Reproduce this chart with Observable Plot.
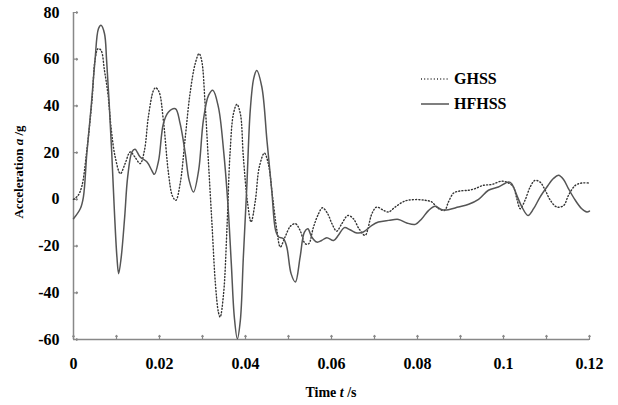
<!DOCTYPE html>
<html>
<head>
<meta charset="utf-8">
<script src="https://cdn.jsdelivr.net/npm/d3@7"></script>
<script src="https://cdn.jsdelivr.net/npm/@observablehq/plot@0.6"></script>
<style>
  html, body { margin: 0; padding: 0; background: #fff; }
  #chart { position: relative; width: 618px; height: 405px; }
</style>
</head>
<body>
<div id="chart"></div>
<script>
const seriesNames = ["GHSS", "HFHSS"];

const ghssT = [0,0.001,0.0019,0.0031,0.0043,0.005,0.0057,0.0064,0.0072,0.008,0.0088,0.0097,0.0109,0.012,0.0132,0.0143,0.0155,0.0165,0.0174,0.0186,0.0191,0.0199,0.0209,0.0221,0.023,0.0238,0.0248,0.026,0.0271,0.0283,0.0292,0.0298,0.0306,0.0314,0.0322,0.033,0.0337,0.0341,0.0349,0.0357,0.0364,0.0372,0.038,0.0388,0.0395,0.0405,0.0413,0.0423,0.0432,0.0444,0.0453,0.0463,0.0473,0.0481,0.0492,0.0504,0.0516,0.0527,0.0539,0.0547,0.0558,0.057,0.0579,0.0591,0.0601,0.0612,0.0624,0.0638,0.0651,0.0664,0.0678,0.0694,0.0705,0.0721,0.0733,0.0748,0.0771,0.0795,0.0818,0.0833,0.0849,0.0863,0.0872,0.0884,0.0899,0.0919,0.0934,0.0953,0.0973,0.0996,0.1012,0.1023,0.1031,0.1039,0.105,0.1062,0.1073,0.1085,0.1097,0.1109,0.1124,0.114,0.1151,0.1167,0.1182,0.1198];
const ghssA = [0,1.5,5.3,21,42.4,59.5,64.5,63.8,55.2,45.3,29.6,18.1,11,15.3,20.3,18.1,15.3,21,35.2,46.7,47.8,46,33.8,11,1.5,-0.4,6.7,26.7,45.3,58.1,62.4,59.5,41,15.3,-10.4,-36.1,-48.3,-50.4,-40.4,-11.9,19.6,36.7,40.7,36.7,18.1,-1.8,-9.7,-0.4,13.8,19.8,15.3,1,-13.3,-20.4,-16.1,-11.6,-10.4,-13.3,-19,-19,-11.9,-6.1,-3.6,-6.1,-10.4,-13.6,-10.4,-6.9,-8.3,-12.6,-15.4,-6.1,-3.3,-4.7,-5.4,-3.3,-0.7,-0.1,-0.4,-1.1,-4,-4.7,-1.1,2.7,3.6,3.9,4.6,6,6.4,7.8,7,5.3,0.3,-4,-0.4,5.3,8.1,7.4,3.9,-0.4,-3.3,-2.6,1.7,6,7,7];

const hfhssT = [0,0.0016,0.0023,0.0031,0.0041,0.005,0.0058,0.0064,0.0072,0.0077,0.0083,0.0089,0.0095,0.0101,0.0105,0.0111,0.0119,0.0126,0.0136,0.0143,0.0155,0.0171,0.0182,0.0188,0.0198,0.0209,0.0221,0.0237,0.0248,0.026,0.0269,0.0279,0.0291,0.0302,0.0314,0.0324,0.0337,0.0349,0.0359,0.0367,0.0374,0.0381,0.0388,0.0395,0.0403,0.0411,0.0419,0.0426,0.0438,0.045,0.0461,0.047,0.0477,0.0488,0.0496,0.0506,0.0516,0.0527,0.0537,0.0545,0.0554,0.0566,0.0577,0.0589,0.0605,0.0616,0.063,0.0643,0.0659,0.0674,0.0694,0.0709,0.0733,0.0756,0.0775,0.0795,0.081,0.0826,0.0841,0.0857,0.0872,0.0895,0.0919,0.0942,0.0965,0.0988,0.1012,0.1019,0.1031,0.1043,0.1057,0.107,0.1085,0.1101,0.1116,0.1128,0.114,0.1151,0.1167,0.1182,0.1194,0.12];
const hfhssA = [-8.3,-3.9,1,19.7,39.5,59.5,73,74.5,71,59.5,41,19.7,-4.7,-24.7,-31.8,-24.7,-7.6,9.6,20.3,21.5,18.1,16,12.4,10.7,16.7,32.4,37.4,38.8,32.4,19.6,8.1,3.1,12.4,33.8,44.5,46.7,39.5,21,-1.8,-27.5,-50.4,-59.7,-51.8,-24.7,5.3,38,51.7,55.2,48.1,25,3.9,-13.3,-16.1,-16.8,-20.4,-31.8,-35.4,-24.7,-14,-12.6,-16.1,-18.3,-17.6,-16.4,-17.6,-15.4,-12.1,-13,-14.4,-14,-11.1,-9.7,-9,-8.6,-10.1,-10.7,-8.3,-4.7,-3,-4.4,-4.4,-3.3,-2.1,0,3.9,5.3,7.4,6.7,1.7,-3.3,-6.9,-4,1,5.3,8.9,10.3,8.4,4.6,-0.4,-4,-5.4,-5];

const xTicks = [0,0.01,0.02,0.03,0.04,0.05,0.06,0.07,0.08,0.09,0.1,0.11,0.12];
const xLabelTicks = [0,0.02,0.04,0.06,0.08,0.1,0.12];
const yTicks = [-60,-40,-20,0,20,40,60,80];
const xTitle = "Time ";
const yTitle = "Acceleration ";

const ghss = ghssT.map((t, i) => ({t, a: ghssA[i]}));
const hfhss = hfhssT.map((t, i) => ({t, a: hfhssA[i]}));

const FONT = "'Liberation Serif', 'Times New Roman', serif";
const DOTS = "1 2.2";

const plot = Plot.plot({
  width: 618,
  height: 405,
  marginLeft: 73,
  marginRight: 29,
  marginTop: 12,
  marginBottom: 66,
  style: {fontFamily: FONT, fontSize: "16px", fontWeight: "bold", color: "#000", background: "#fff"},
  x: {domain: [0, 0.12]},
  y: {domain: [-60, 80]},
  marks: [
    Plot.axisX(xLabelTicks, {tickSize: 0, tickPadding: 18, tickFormat: d => String(+d.toFixed(2)), label: null, fill: "#000"}),
    Plot.axisY(yTicks, {tickSize: 0, tickPadding: 14, tickFormat: d => String(d), label: null, fill: "#000"}),
    // inward tick marks
    Plot.vector(xTicks, {x: d => d, frameAnchor: "bottom", length: 4, rotate: 0, anchor: "start", stroke: "#888", strokeWidth: 1.2}),
    Plot.vector(yTicks, {y: d => d, frameAnchor: "left", length: 4, rotate: 90, anchor: "start", stroke: "#888", strokeWidth: 1.2}),
    Plot.ruleY([-60], {stroke: "#888", strokeWidth: 1.5}),
    Plot.ruleX([0], {stroke: "#888", strokeWidth: 1.5}),
    Plot.line(ghss, {x: "t", y: "a", curve: "catmull-rom", stroke: "#333", strokeWidth: 1.4, strokeDasharray: DOTS}),
    Plot.line(hfhss, {x: "t", y: "a", curve: "catmull-rom", stroke: "#555", strokeWidth: 1.5})
  ]
});

document.getElementById("chart").appendChild(plot);

const svg = d3.select(plot);
// Axis titles
const xt = svg.append("text")
  .attr("x", 331).attr("y", 394)
  .attr("text-anchor", "middle").attr("dominant-baseline", "middle")
  .style("font-family", FONT).style("font-size", "14px").style("font-weight", "bold").attr("fill", "#000");
xt.append("tspan").text(xTitle);
xt.append("tspan").style("font-style", "italic").text("t");
xt.append("tspan").text(" /s");

const yt = svg.append("text")
  .attr("transform", "translate(20,172) rotate(-90)")
  .attr("text-anchor", "middle").attr("dominant-baseline", "middle")
  .style("font-family", FONT).style("font-size", "13px").style("font-weight", "bold").attr("fill", "#000");
yt.append("tspan").text(yTitle);
yt.append("tspan").style("font-style", "italic").text("a");
yt.append("tspan").text(" /g");

// Legend
const legend = svg.append("g");
const styles = [
  {stroke: "#333", dash: DOTS, y: 79},
  {stroke: "#555", dash: null, y: 104}
];
seriesNames.forEach((name, i) => {
  const s = styles[i];
  const ln = legend.append("line").attr("x1", 421).attr("x2", 449).attr("y1", s.y).attr("y2", s.y)
    .attr("stroke", s.stroke).attr("stroke-width", 1.5);
  if (s.dash) ln.attr("stroke-dasharray", s.dash);
  legend.append("text").attr("x", 454).attr("y", s.y + 1)
    .attr("text-anchor", "start").attr("dominant-baseline", "middle")
    .style("font-family", FONT).style("font-size", "16px").style("font-weight", "bold").attr("fill", "#000").text(name);
});
</script>
</body>
</html>
